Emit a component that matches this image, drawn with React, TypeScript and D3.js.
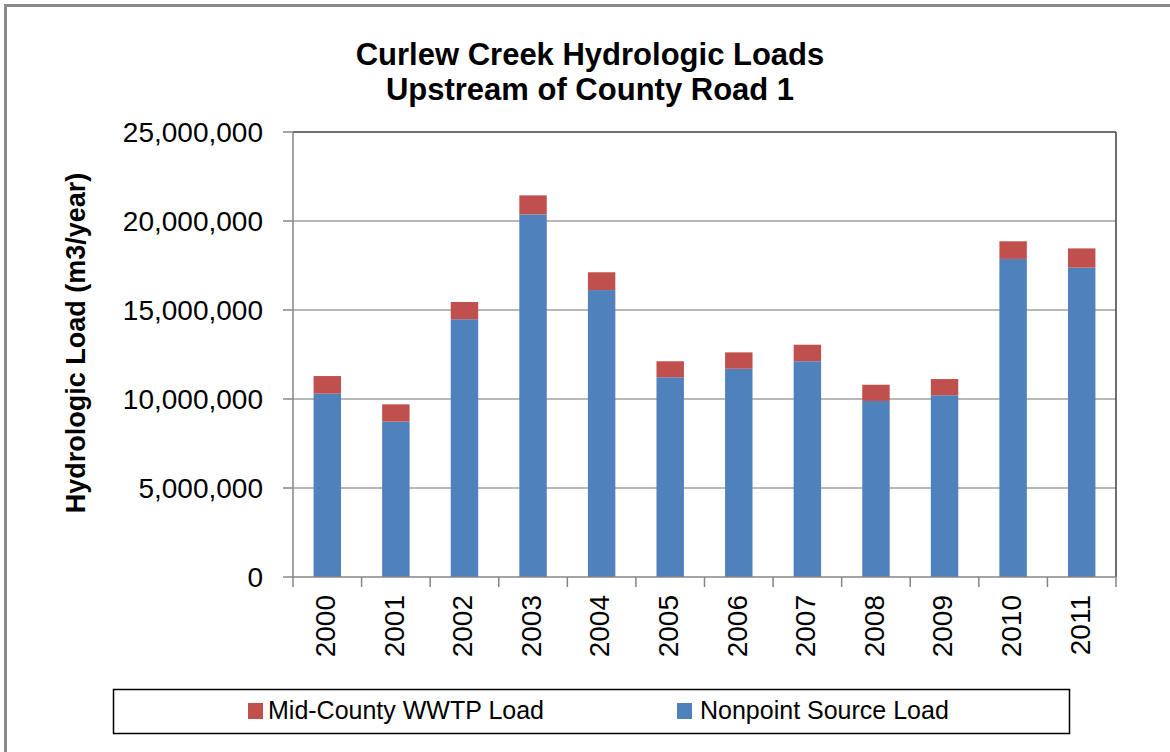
import React from 'react';
import * as d3 from 'd3';

// Curlew Creek hydrologic loads, stacked bars (m3/year)
const years = ['2000', '2001', '2002', '2003', '2004', '2005', '2006', '2007', '2008', '2009', '2010', '2011'];
const nonpointLoad = [10300000, 8730000, 14480000, 20370000, 16120000, 11220000, 11700000, 12120000, 9890000, 10210000, 17870000, 17380000];
const wwtpLoad = [990000, 970000, 970000, 1070000, 1000000, 900000, 920000, 930000, 910000, 910000, 990000, 1080000];
const yTicks = [0, 5000000, 10000000, 15000000, 20000000, 25000000];

const titleLines = ['Curlew Creek Hydrologic Loads', 'Upstream of County Road 1'];
const yTitle = 'Hydrologic Load (m3/year)';
const seriesNames = ['Mid-County WWTP Load', 'Nonpoint Source Load'];

const BLUE = '#4F81BD';
const RED = '#C0504D';
const FONT = '"Liberation Sans", Arial, sans-serif';

const App = () => {
  const width = 1170;
  const height = 752;
  const plot = { left: 293, right: 1116, top: 132, bottom: 577 };

  const x = d3.scaleBand()
    .domain(years)
    .range([plot.left, plot.right])
    .paddingInner(0.6)
    .paddingOuter(0.3);

  const y = d3.scaleLinear()
    .domain([0, 25000000])
    .range([plot.bottom, plot.top]);

  const fmt = d3.format(',');

  // category boundaries for the x tick marks
  const boundaries = d3.range(years.length + 1).map(i => plot.left + i * x.step());

  return (
    <svg width={width} height={height} style={{ position: 'absolute', left: 0, top: 0, background: '#fff' }}>
      {/* outer chart border */}
      <rect x={5.5} y={5.5} width={width + 20} height={height + 20} fill="#fff" stroke="#8a8a8a" strokeWidth={3} />

      {/* title */}
      {titleLines.map((t, i) => (
        <text key={t} x={590} y={65 + i * 35} textAnchor="middle" fontFamily={FONT}
          fontWeight="bold" fontSize={31} fill="#000">{t}</text>
      ))}

      {/* gridlines */}
      {yTicks.filter(v => v > 0 && v < 25000000).map(v => (
        <line key={v} x1={plot.left} x2={plot.right} y1={y(v)} y2={y(v)} stroke="#a0a0a0" strokeWidth={1.5} />
      ))}
      {/* top and right of plot area */}
      <line x1={plot.left} x2={plot.right} y1={plot.top} y2={plot.top} stroke="#404040" strokeWidth={1.5} />
      <line x1={plot.right} x2={plot.right} y1={plot.top} y2={plot.bottom} stroke="#404040" strokeWidth={1.5} />

      {/* bars */}
      {years.map((yr, i) => {
        const bx = x(yr) as number;
        const bw = x.bandwidth();
        const base = nonpointLoad[i];
        const total = base + wwtpLoad[i];
        return (
          <g key={yr}>
            <rect x={bx} y={y(base)} width={bw} height={y(0) - y(base)} fill={BLUE} />
            <rect x={bx} y={y(total)} width={bw} height={y(base) - y(total)} fill={RED} />
          </g>
        );
      })}

      {/* y axis */}
      <line x1={plot.left} x2={plot.left} y1={plot.top} y2={plot.bottom} stroke="#868686" strokeWidth={1.5} />
      {yTicks.map(v => (
        <g key={v}>
          <line x1={plot.left - 10} x2={plot.left} y1={y(v)} y2={y(v)} stroke="#868686" strokeWidth={1.5} />
          <text x={263} y={y(v)} dy="0.35em" textAnchor="end" fontFamily={FONT} fontSize={28} fill="#000">{fmt(v)}</text>
        </g>
      ))}

      {/* x axis */}
      <line x1={plot.left} x2={plot.right} y1={plot.bottom} y2={plot.bottom} stroke="#868686" strokeWidth={1.5} />
      {boundaries.map((bx, i) => (
        <line key={i} x1={bx} x2={bx} y1={plot.bottom} y2={plot.bottom + 10} stroke="#868686" strokeWidth={1.5} />
      ))}
      {years.map(yr => (
        <text key={yr} transform={`translate(${(x(yr) as number) + x.bandwidth() / 2},595) rotate(-90)`}
          dy="0.28em" textAnchor="end" fontFamily={FONT} fontSize={28} fill="#000">{yr}</text>
      ))}

      {/* y axis title */}
      <text transform="translate(85,343) rotate(-90)" textAnchor="middle" fontFamily={FONT}
        fontWeight="bold" fontSize={27} fill="#000">{yTitle}</text>

      {/* legend */}
      <rect x={113.5} y={689.5} width={956} height={44} fill="#fff" stroke="#000" strokeWidth={1.5} />
      <rect x={248} y={703} width={15} height={16} fill={RED} />
      <text x={268} y={719} fontFamily={FONT} fontSize={25} fill="#000">{seriesNames[0]}</text>
      <rect x={677} y={703} width={15} height={16} fill={BLUE} />
      <text x={700} y={719} fontFamily={FONT} fontSize={25} fill="#000">{seriesNames[1]}</text>
    </svg>
  );
};

export default App;
